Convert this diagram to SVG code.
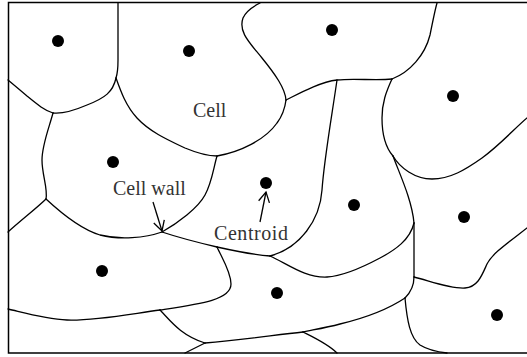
<svg xmlns="http://www.w3.org/2000/svg" width="527" height="357" viewBox="0 0 527 357">
  <style>
    .wall { fill: none; stroke: #000; stroke-width: 1.3; stroke-linecap: round; stroke-linejoin: round; }
    .frame { fill: none; stroke: #000; stroke-width: 1.5; }
    .dot { fill: #000; }
    .lbl { font-family: "Liberation Serif", "Times New Roman", serif; font-size: 20px; fill: #333; }
    .ptr { fill: none; stroke: #000; stroke-width: 1.3; }
  </style>
  <defs>
    <marker id="openHead" markerUnits="userSpaceOnUse" markerWidth="14" markerHeight="14" viewBox="-12 -7 14 14" refX="0" refY="0" orient="auto">
      <path d="M-10,-5.5 L0,0 L-10,5.5" fill="none" stroke="#000" stroke-width="1.3"/>
    </marker>
  </defs>

  <!-- frame (open on the right) -->
  <path class="frame" d="M527,2.5 L8.5,2.5 L8.5,353 L527,353"/>

  <!-- cell walls -->
  <g id="walls">
    <path class="wall" d="M118,3 L118,60 C118,70 117,75 116,78"/>
    <path class="wall" d="M116,78 C113,92 105,98 87,105 C73,111 62,114 53,113"/>
    <path class="wall" d="M53,113 C44,110 38,105 27,96 C20,90 14,85 8,80"/>
    <path class="wall" d="M53,113 C49,128 42,145 42,160 C42,175 48,188 46,199"/>
    <path class="wall" d="M46,199 C38,207 20,221 8,232"/>
    <path class="wall" d="M116,78 C121,92 126,106 137,118 C150,132 168,140 185,148 C197,153 208,156 217,156"/>
    <path class="wall" d="M217,156 C240,152 265,140 277,123 C283,115 285,108 286,100"/>
    <path class="wall" d="M286,100 C285,88 275,74 262,58 C250,43 238,32 243,18 C246,11 254,6 260,3"/>
    <path class="wall" d="M286,100 C300,93 320,82 337,80 C355,78 375,81 392,79"/>
    <path class="wall" d="M392,79 C410,72 425,55 430,35 C433,20 435,10 437,3"/>
    <path class="wall" d="M337,80 C332,115 324,160 322,190 C320,220 300,248 270,256"/>
    <path class="wall" d="M392,79 C386,92 382,103 382,118 C382,135 386,148 393,156"/>
    <path class="wall" d="M393,156 C400,168 415,179 432,179 C450,179 465,170 482,158 C500,145 515,128 527,118"/>
    <path class="wall" d="M393,156 C400,175 412,200 414,223"/>
    <path class="wall" d="M414,223 C410,240 395,250 380,258 C365,266 345,276 327,277 C305,278 288,264 270,256"/>
    <path class="wall" d="M414,223 L414,277"/>
    <path class="wall" d="M414,277 C430,281 450,289 465,288 C478,287 482,275 487,264 C492,254 505,245 527,228"/>
    <path class="wall" d="M414,277 C414,285 411,292 405,298"/>
    <path class="wall" d="M405,298 C407,320 410,338 420,345 C428,350 438,352 447,353"/>
    <path class="wall" d="M405,298 C390,308 365,318 340,324 C325,328 312,330 303,332"/>
    <path class="wall" d="M303,332 C315,338 328,344 337,353"/>
    <path class="wall" d="M205,343 C240,340 275,335 303,332"/>
    <path class="wall" d="M205,343 L185,353"/>
    <path class="wall" d="M160,310 C170,320 180,335 205,343"/>
    <path class="wall" d="M160,310 C130,314 95,321 67,320 C45,319 25,313 8,309"/>
    <path class="wall" d="M217,247 C222,258 231,272 231,284 C231,300 200,304 160,310"/>
    <path class="wall" d="M217,247 C235,251 255,255 270,256"/>
    <path class="wall" d="M162,232 C180,238 200,243 217,247"/>
    <path class="wall" d="M162,232 C145,238 120,240 100,235 C80,229 60,212 46,199"/>
    <path class="wall" d="M162,232 C178,223 198,208 205,195 C212,182 213,170 217,156"/>
  </g>

  <!-- centroids -->
  <g id="centroids">
    <circle class="dot" cx="58" cy="41" r="6"/>
    <circle class="dot" cx="189" cy="51" r="6"/>
    <circle class="dot" cx="332" cy="30" r="6"/>
    <circle class="dot" cx="453" cy="96" r="6"/>
    <circle class="dot" cx="113" cy="162" r="6"/>
    <circle class="dot" cx="266" cy="183" r="6"/>
    <circle class="dot" cx="354" cy="205" r="6"/>
    <circle class="dot" cx="464" cy="217" r="6"/>
    <circle class="dot" cx="102" cy="271" r="6"/>
    <circle class="dot" cx="277" cy="293" r="6"/>
    <circle class="dot" cx="497" cy="315" r="6"/>
  </g>

  <!-- labels -->
  <g id="label-cell"><text class="lbl" x="193" y="117">Cell</text></g>
  <g id="label-cellwall"><text class="lbl" x="113" y="195">Cell wall</text></g>
  <g id="label-centroid"><text class="lbl" x="214" y="240" textLength="74">Centroid</text></g>

  <!-- pointers -->
  <g id="connectors">
    <path class="ptr" d="M153,202 L162,231" marker-end="url(#openHead)"/>
    <path class="ptr" d="M260,222 L266,192" marker-end="url(#openHead)"/>
  </g>
</svg>
